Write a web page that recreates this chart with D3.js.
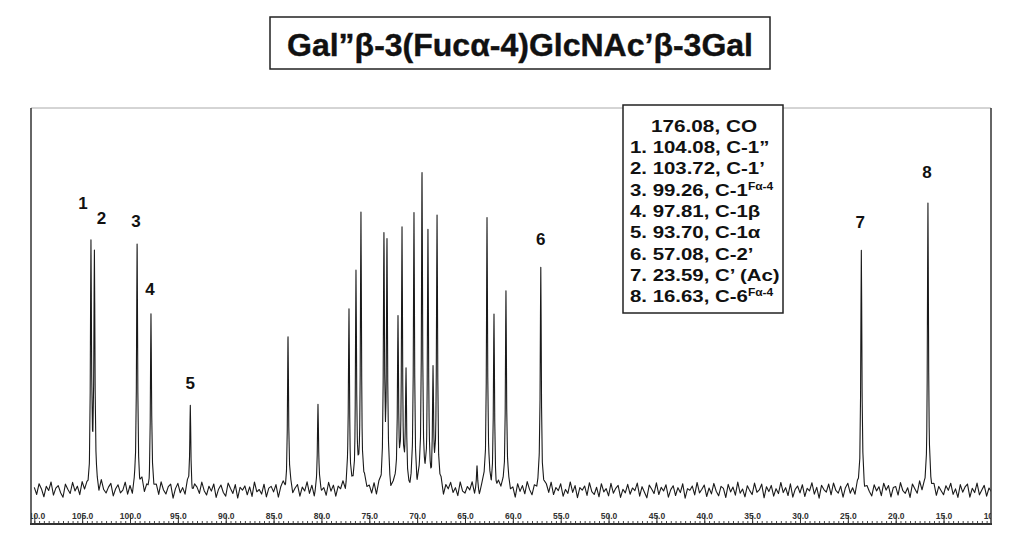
<!DOCTYPE html>
<html><head><meta charset="utf-8">
<script src="https://cdn.jsdelivr.net/npm/d3@7"></script>
<style>body{margin:0;background:#fff} svg text{font-family:"Liberation Sans",Arial,sans-serif}</style>
</head><body><svg id="c" width="1024" height="557"></svg>
<script>
// ---------- data ----------
const titleText = "Gal\u201D\u03B2-3(Fuc\u03B1-4)GlcNAc\u2019\u03B2-3Gal";
const peakPpm = [104.08,103.72,99.26,97.81,93.70,83.49,80.36,77.12,76.39,75.87,73.47,73.15,72.00,71.58,71.16,70.33,69.49,68.87,68.34,67.92,63.74,62.70,61.97,60.72,57.08,23.59,16.63];
const peakInt = [74,71,75,53,27,47,25,54,66,84,74,73,52,79,33,83,96,77,35,82,6,83,53,62,69,72,88];
const labelText = ["1","2","3","4","5","6","7","8"];
const labelPpm = [104.08,103.72,99.26,97.81,93.70,57.08,23.59,16.63];
const legendHeader = "176.08, CO";
const legendMain = ["1. 104.08, C-1\u201D","2. 103.72, C-1\u2019","3. 99.26, C-1","4. 97.81, C-1\u03B2","5. 93.70, C-1\u03B1","6. 57.08, C-2\u2019","7. 23.59, C\u2019 (Ac)","8. 16.63, C-6"];
const legendSup = ["","","F\u03B1-4","","","","","F\u03B1-4"];
const tickValues = [110,105,100,95,90,85,80,75,70,65,60,55,50,45,40,35,30,25,20,15,10];
const noiseStart = 110, noiseStep = 0.25;
const noise = [0.8,-1.4,1.9,0.3,-2.1,1.1,-0.2,2.4,-1.6,0.5,
1.3,-0.9,-2.3,1.7,0.1,-1.2,2.2,-0.5,0.9,-1.8,
2.0,-0.7,0.4,-2.5,1.5,-0.1,1.0,-1.9,2.3,-0.4,
-1.3,0.6,1.8,-2.0,0.2,1.4,-1.1,-0.3,2.1,-1.7,
0.7,-2.4,1.2,0.0,-0.8,2.5,-1.5,0.4,-2.2,1.6,
-0.6,1.0,-1.8,2.2,-0.2,-1.4,0.9,1.7,-2.6,0.3,
1.9,-1.0,0.5,-1.7,2.0,-0.9,-2.1,1.3,0.6,-1.2,
2.3,-0.3,-1.6,1.1,-0.4,1.8,-2.3,0.2,1.5,-0.8,
-1.9,2.1,0.4,-1.1,1.6,-2.5,0.8,-0.1,1.2,-1.5,
0.9,-2.0,2.4,-0.6,0.1,-1.3,1.7,-2.2,0.5,1.0,
-0.7,1.5,-2.4,0.6,2.0,-1.0,-0.3,1.8,-1.7,0.2,
1.4,-2.1,0.7,-0.5,2.3,-1.3,1.1,-2.6,0.4,1.6,
-1.0,0.3,-1.9,2.1,-0.6,1.2,-2.2,0.8,-0.2,1.9,
-1.5,2.2,-0.9,0.1,-2.3,1.5,0.6,-1.2,2.0,-0.4,
0.5,-1.8,1.3,-2.4,0.9,-0.1,1.7,-1.0,2.5,-2.0,
0.2,1.1,-1.4,0.7,-2.1,2.3,-0.5,-1.6,1.4,0.0,
-2.2,1.8,-0.8,0.6,-1.3,2.0,-1.9,0.3,1.2,-0.7,
1.6,-2.5,0.9,-0.2,1.9,-1.1,0.4,-2.0,2.2,-0.6,
-1.2,0.8,-0.3,2.1,-1.7,1.0,-2.3,0.5,1.5,-0.9,
2.4,-1.5,0.2,-2.1,1.3,-0.4,0.7,-1.8,2.0,-1.0,
0.3,-2.6,1.6,-0.7,1.1,-1.4,2.3,-0.2,-1.9,0.9,
-0.5,1.7,-2.2,0.4,1.0,-1.2,2.1,-1.6,0.6,-0.3,
1.8,-2.0,0.1,-1.1,2.4,-0.8,1.3,-2.4,0.7,-0.1,
1.2,-1.7,2.2,-0.5,-1.4,0.8,-2.1,1.9,-0.6,0.4,
-1.8,2.0,-1.0,0.5,1.4,-2.3,0.2,-0.9,1.7,-1.3,
0.6,-0.2,2.1,-1.9,1.0,-0.7,-2.4,1.5,0.3,-1.1,
2.2,-1.4,0.8,-0.3,1.6,-2.2,0.1,1.3,-1.7,0.7,
-0.8,1.9,-2.5,0.4,-0.1,1.2,-1.5,2.3,-0.9,0.2,
1.5,-2.0,0.6,-1.2,2.0,-0.4,-1.8,1.1,0.5,-2.3,
1.7,-0.6,0.9,-1.6,2.4,-1.0,0.3,-2.1,1.3,-0.2,
-1.4,2.1,-0.7,0.0,1.8,-2.4,1.0,-0.5,1.4,-1.9,
0.4,-1.1,2.3,-0.8,0.7,-1.7,1.9,-2.2,0.2,1.2,
-0.9,1.6,-2.0,0.5,-0.3,2.2,-1.3,0.8,-2.5,1.4,
0.1,-0.7,1.8,-1.5,2.1,-0.2,-1.0,1.1,-2.3,0.6,
1.9,-1.2,0.3,-2.0,1.2,-0.6,2.4,-1.4,0.5,-0.9,
-2.1,1.4,-0.4,0.9,-1.8,2.0,-0.1,1.3,-2.2,0.7,
1.0,-1.6,2.2,-0.3,-1.1,0.6,-2.4,1.7,0.2,-1.3,
2.3,-0.9,0.4,-1.9,1.5,-0.5,1.1,-2.1,0.8,-0.4,
-1.6,1.2,-0.2,2.0,-1.4,0.3,-2.3,1.6,-0.7,0.9,
1.8,-2.2,0.5,-0.8,2.1,-1.5,0.0,1.4,-1.9,0.6,
-0.5];

// ---------- layout ----------
const svg = d3.select("#c");
const frame = {l:31, r:991, t:108, b:524};
const x = d3.scaleLinear().domain([110,10]).range([34.3,991.4]);
const y = d3.scaleLinear().domain([0,100]).range([490,163]);

const defs = svg.append("defs");
defs.append("clipPath").attr("id","fr").append("rect")
  .attr("x",frame.l).attr("y",frame.t).attr("width",frame.r-frame.l).attr("height",frame.b-frame.t);

// title
const tg = svg.append("g");
tg.append("rect").attr("x",270).attr("y",17).attr("width",500).attr("height",52)
  .attr("fill","none").attr("stroke","#222").attr("stroke-width",1.5);
tg.append("text").attr("x",520).attr("y",56).attr("text-anchor","middle")
  .attr("font-size",32).attr("font-weight","bold").attr("fill","#111")
  .attr("stroke","#111").attr("stroke-width",0.4).text(titleText);

// spectrum
function noiseAt(p){
  const f = (noiseStart - p)/noiseStep;
  const i = Math.max(0, Math.min(noise.length-2, Math.floor(f)));
  const t = f - i;
  return noise[i]*(1-t) + noise[i+1]*t;
}
const w = 0.065;
const offs = [-0.3,-0.16,-0.08,-0.035,0,0.035,0.08,0.16,0.3];
let samples = noise.map((v,i)=>noiseStart - i*noiseStep);
peakPpm.forEach(p=>offs.forEach(o=>samples.push(p+o)));
samples = samples.filter(p=>p<=110.2 && p>=9.7).sort((a,b)=>b-a);
const pts = samples.map(p=>{
  let v = noiseAt(p);
  peakPpm.forEach((c,k)=>{ const d=(p-c)/w; v += peakInt[k]/(1+d*d); });
  return [p,v];
});
svg.append("g").attr("clip-path","url(#fr)").append("path")
  .datum(pts)
  .attr("d", d3.line().x(d=>x(d[0])).y(d=>y(d[1])))
  .attr("fill","none").attr("stroke","#1a1a1a").attr("stroke-width",1.1).attr("stroke-linejoin","round");

// frame
svg.append("line").attr("x1",frame.l).attr("x2",frame.r).attr("y1",frame.t).attr("y2",frame.t).attr("stroke","#aaa").attr("stroke-width",1);
svg.append("line").attr("x1",frame.l).attr("x2",frame.l).attr("y1",frame.t).attr("y2",frame.b).attr("stroke","#333").attr("stroke-width",1.5);
svg.append("line").attr("x1",frame.r).attr("x2",frame.r).attr("y1",frame.t).attr("y2",frame.b).attr("stroke","#333").attr("stroke-width",1.5);

// axis (ruler)
const ag = svg.append("g").attr("clip-path","url(#fr)");
const minor = d3.range(110,9.9,-0.5);
ag.append("g").attr("transform",`translate(0,${frame.b})`)
  .call(d3.axisTop(x).tickValues(minor).tickSize(3).tickFormat(""))
  .call(g=>g.select(".domain").remove())
  .call(g=>g.selectAll("line").attr("stroke","#444"));
ag.append("g").attr("transform",`translate(0,${frame.b})`)
  .call(d3.axisTop(x).tickValues(tickValues).tickSize(9).tickPadding(-4).tickFormat(d3.format(".1f")))
  .call(g=>g.select(".domain").remove())
  .call(g=>g.selectAll("line").attr("stroke","#333"))
  .call(g=>g.selectAll("text").attr("font-size",8.5).attr("font-weight","bold").attr("font-family","Liberation Sans, Arial").attr("fill","#333"));
svg.append("line").attr("x1",frame.l-1).attr("x2",frame.r+1).attr("y1",frame.b).attr("y2",frame.b).attr("stroke","#333").attr("stroke-width",2);

// peak labels
const ldx = [-8,7,-1,-1,0,0,-1,-1];
const ldy = [-39,-34,-18,-22,-13,-19,-27,-24];
svg.append("g").selectAll("text").data(labelText).join("text")
  .attr("x",(d,i)=>x(labelPpm[i])+ldx[i])
  .attr("y",(d,i)=>{const k=peakPpm.indexOf(labelPpm[i]); return y(peakInt[k])+ldy[i];})
  .attr("text-anchor","middle").attr("font-size",17).attr("font-weight","bold").attr("fill","#111")
  .text(d=>d);

// legend
const lg = svg.append("g");
lg.append("rect").attr("x",623).attr("y",105).attr("width",160).attr("height",208)
  .attr("fill","#fff").attr("stroke","#222").attr("stroke-width",1.5);
lg.append("text").attr("transform","translate(704,132) scale(1.22,1)").attr("text-anchor","middle")
  .attr("font-size",17).attr("font-weight","bold").attr("fill","#111").text(legendHeader);
legendMain.forEach((s,i)=>{
  const t = lg.append("text").attr("transform",`translate(630,${153+i*21.3}) scale(1.2,1)`)
    .attr("font-size",17).attr("font-weight","bold").attr("fill","#111");
  t.append("tspan").text(s);
  if (legendSup[i]) t.append("tspan").attr("font-size",10).attr("dy",-6).text(legendSup[i]);
});
</script></body></html>
